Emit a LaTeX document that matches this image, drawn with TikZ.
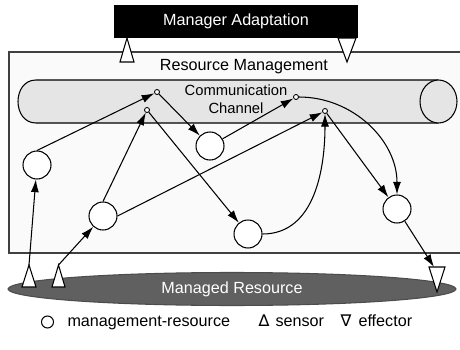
\documentclass[tikz,border=0pt]{standalone}
\usepackage{fontspec}
\setmainfont{Liberation Sans}
\newfontfamily\dejavu{DejaVu Sans}
\usepackage{xcolor}
\usetikzlibrary{arrows.meta,shapes.geometric}
\definecolor{boxgray}{RGB}{250,250,250}
\definecolor{chgray}{RGB}{229,229,229}
\definecolor{resgray}{RGB}{96,96,96}

\begin{document}
\begin{tikzpicture}[x=0.02cm,y=0.02cm,line width=0.6pt,
    font=\fontsize{9.2}{11}\selectfont,
    mr/.style={circle,draw,fill=white,minimum size=0.56cm,inner sep=0pt},
    port/.style={circle,draw,fill=white,minimum size=0.1cm,inner sep=0pt,line width=0.5pt},
    tri/.style={draw,fill=white,line join=miter},
    conn/.style={-{Latex[length=7.2pt,width=4.6pt]}}]
  \useasboundingbox (0,0) rectangle (460,349);

  \draw[fill=boxgray,draw=black!75] (9,96) rectangle (463,297);
  \node (rm) at (244,282) {Resource Management};

  \node[fill=black,text=white,minimum width=4.88cm,minimum height=0.66cm] (mgr) at (236,327.5) {Manager Adaptation};
  \draw[tri] (120,287) -- (127,311) -- (134,287) -- cycle;
  \draw[tri] (338,311) -- (356,311) -- (347,287) -- cycle;

  \filldraw[fill=chgray] (438.5,269) -- (36,269) .. controls (12,269) and (12,226) .. (36,226) -- (438.5,226);
  \filldraw[fill=chgray] (438.5,247.5) ellipse [x radius=0.37cm, y radius=0.43cm];
  \node[align=center,font=\fontsize{8.4}{10.2}\selectfont] (cc) at (236,250) {Communication\\Channel};

  \node[ellipse,draw=black!70,fill=resgray,text=white,minimum width=8.96cm,minimum height=0.66cm,inner sep=0pt] (res) at (232,60) {Managed Resource};

  \node[port] (p1) at (157,257) {};
  \node[port] (p2) at (147,239) {};
  \node[port] (p3) at (296,252) {};
  \node[port] (p4) at (325,238) {};

  \node[mr] (c1) at (37,184) {};
  \node[mr] (c2) at (103,133) {};
  \node[mr] (c3) at (210,203) {};
  \node[mr] (c4) at (248,115) {};
  \node[mr] (c5) at (397,140) {};

  \coordinate (s1) at (29,84);
  \coordinate (s2) at (58.5,84);
  \coordinate (e) at (434,82);
  \draw[tri] (s1) -- ++(-7,-22) -- ++(14,0) -- cycle;
  \draw[tri] (s2) -- ++(-6.5,-22) -- ++(13,0) -- cycle;
  \draw[tri] (429,82) -- (445,82) -- (437,57) -- cycle;

  \draw[conn] (s1) -- (c1);
  \draw[conn] (s2) -- (c2);
  \draw[conn] (c1.north) -- (p1);
  \draw[conn] (p1) -- (c3);
  \draw[conn] (c2.north) -- (p2);
  \draw[conn] (p2) -- (c4);
  \draw[conn] (c3) -- (p3);
  \draw[conn] (c2.east) -- (p4);
  \draw[conn] (c4) to[out=0,in=-90] (p4);
  \draw[conn] (p3) to[out=0,in=90] (c5);
  \draw[conn] (p4) -- (c5);
  \draw[conn] (c5) -- (e);

  \node[mr,minimum size=0.24cm] (lm) at (47.5,27) {};
  \node[anchor=base west,inner sep=0pt] (lmt) at (67,22.5) {management-resource};
  \node[anchor=base,inner sep=0pt] (ls) at (264,22.5) {\dejavu ∆};
  \node[anchor=base west,inner sep=0pt] (lst) at (275,22.5) {sensor};
  \node[anchor=base,inner sep=0pt] (le) at (346,22.5) {\dejavu ∇};
  \node[anchor=base west,inner sep=0pt] (let) at (358,22.5) {effector};
\end{tikzpicture}
\end{document}
